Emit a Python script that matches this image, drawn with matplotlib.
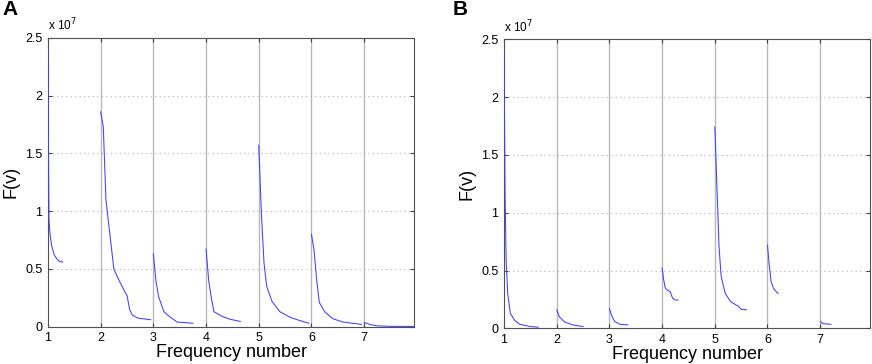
import numpy as np
import matplotlib
matplotlib.use('Agg')
import matplotlib.pyplot as plt

plt.rcParams['font.family'] = ['Liberation Sans', 'DejaVu Sans']

# F(v) values in units of 1e7, one decaying segment per frequency number
seg_x_a = [
    [1.0, 1.005, 1.01, 1.02, 1.04, 1.07, 1.12, 1.18, 1.22, 1.28],
    [2.0, 2.05, 2.1, 2.15, 2.25, 2.35, 2.45, 2.5, 2.55, 2.6, 2.7, 2.95],
    [3.0, 3.05, 3.1, 3.2, 3.3, 3.45, 3.75],
    [4.0, 4.05, 4.1, 4.15, 4.3, 4.45, 4.65],
    [5.0, 5.05, 5.1, 5.15, 5.25, 5.4, 5.6, 5.8, 5.95],
    [6.0, 6.05, 6.1, 6.15, 6.25, 6.4, 6.6, 6.95],
    [7.0, 7.05, 7.1, 7.25, 7.5, 7.95],
]
seg_y_a = [
    [2.42, 2.0, 1.5, 0.92, 0.8, 0.7, 0.62, 0.58, 0.565, 0.56],
    [1.86, 1.73, 1.1, 0.9, 0.5, 0.4, 0.31, 0.27, 0.15, 0.1, 0.075, 0.06],
    [0.63, 0.39, 0.26, 0.13, 0.09, 0.04, 0.03],
    [0.67, 0.4, 0.25, 0.13, 0.09, 0.065, 0.045],
    [1.57, 0.98, 0.55, 0.35, 0.22, 0.13, 0.08, 0.05, 0.03],
    [0.8, 0.66, 0.4, 0.21, 0.13, 0.07, 0.04, 0.02],
    [0.035, 0.03, 0.02, 0.007, 0.003, 0.002],
]

seg_x_b = [
    [1.0, 1.01, 1.02, 1.04, 1.07, 1.12, 1.2, 1.3, 1.5, 1.65],
    [2.0, 2.05, 2.15, 2.3, 2.5],
    [3.0, 3.05, 3.1, 3.2, 3.35],
    [4.0, 4.03, 4.06, 4.1, 4.15, 4.2, 4.25, 4.3],
    [5.0, 5.05, 5.08, 5.12, 5.2, 5.3, 5.45, 5.5, 5.6],
    [6.0, 6.03, 6.07, 6.12, 6.2],
    [7.0, 7.05, 7.2],
]
seg_y_b = [
    [2.39, 1.8, 1.17, 0.59, 0.3, 0.13, 0.07, 0.035, 0.015, 0.01],
    [0.16, 0.1, 0.055, 0.03, 0.015],
    [0.17, 0.1, 0.06, 0.035, 0.03],
    [0.52, 0.42, 0.35, 0.33, 0.32, 0.26, 0.245, 0.245],
    [1.74, 1.1, 0.71, 0.45, 0.3, 0.23, 0.19, 0.165, 0.16],
    [0.72, 0.56, 0.4, 0.34, 0.3],
    [0.06, 0.04, 0.035],
]

x_ticks = [1, 2, 3, 4, 5, 6, 7]
y_ticks = [0, 0.5, 1, 1.5, 2, 2.5]
y_tick_labels = ['0', '0.5', '1', '1.5', '2', '2.5']

fig = plt.figure(figsize=(8.72, 3.64), dpi=100)
ax_a = fig.add_axes([0.055, 0.1025, 0.42, 0.7935])
ax_b = fig.add_axes([0.578, 0.098, 0.42, 0.794])


def draw_panel(ax, seg_x, seg_y, letter, letter_x):
    for xs, ys in zip(seg_x, seg_y):
        ax.plot(xs, ys, color='#4040ff', linewidth=0.75, zorder=3)
    ax.set_xlim(1, 7.95)
    ax.set_ylim(0, 2.5)
    ax.set_xticks(x_ticks)
    ax.set_yticks(y_ticks)
    ax.set_yticklabels(y_tick_labels)
    # vertical solid grid, horizontal dotted grid
    for xv in x_ticks[1:]:
        ax.axvline(xv, color='#b8b8b8', linewidth=1.0, zorder=1)
    for yv in y_ticks[1:-1]:
        ax.axhline(yv, color='#b0b0b0', linewidth=0.8, linestyle=(0, (1, 3)), zorder=1)
    ax.tick_params(direction='in', length=3, width=0.8, colors='#404040',
                   labelcolor='black', labelsize=9, top=True, right=True, pad=4)
    for sp in ax.spines.values():
        sp.set_color('#505050')
        sp.set_linewidth(0.8)
    ax.set_xlabel('Frequency number', fontsize=13, labelpad=0)
    ax.set_ylabel('F(v)', fontsize=13, labelpad=4)
    ax.text(0.0, 1.015, r'x 10$^7$', transform=ax.transAxes, fontsize=8.5,
            ha='left', va='bottom')
    fig.text(letter_x, 1.0, letter, fontsize=15, fontweight='bold',
             ha='left', va='top')


draw_panel(ax_a, seg_x_a, seg_y_a, 'A', 0.003)
draw_panel(ax_b, seg_x_b, seg_y_b, 'B', 0.519)

fig.savefig('out.png', dpi=100)
